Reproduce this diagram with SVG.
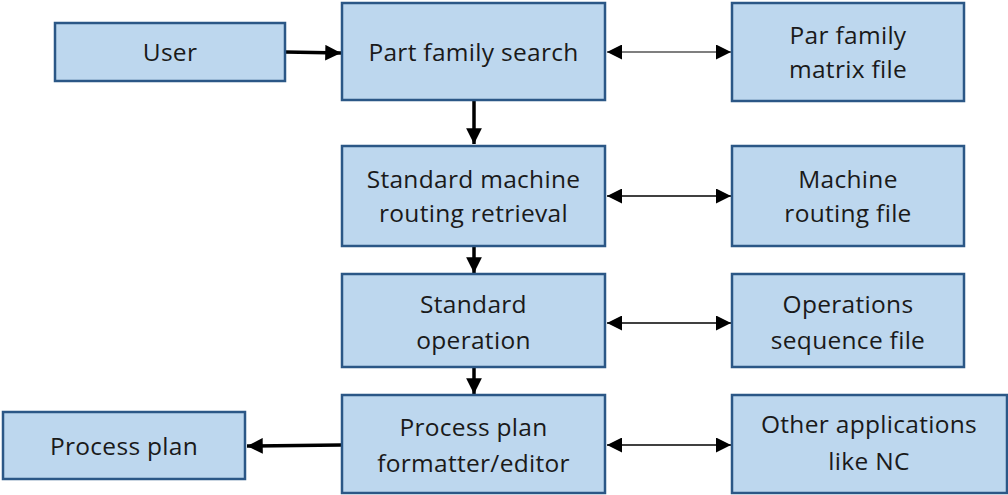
<svg xmlns="http://www.w3.org/2000/svg" width="1008" height="495" viewBox="0 0 1008 495">
  <style>
    .box { fill: #bdd7ee; stroke: #2b5786; stroke-width: 2.5; }
    .lbl { font-family: "Open Sans", "Liberation Sans", sans-serif; font-size: 24.5px; letter-spacing: 0.3px; fill: #1a1a1a; text-anchor: middle; }
    .flow { stroke: #000; stroke-width: 3.5; fill: none; }
    .link { stroke: #000; stroke-width: 1.5; fill: none; }
  </style>
  <defs>
    <marker id="headBig" viewBox="0 0 10 10" refX="10" refY="5" markerWidth="4.5" markerHeight="4.5" markerUnits="strokeWidth" orient="auto">
      <path d="M0,0 L10,5 L0,10 z" fill="#000"/>
    </marker>
    <marker id="headEnd" viewBox="0 0 10 10" refX="10" refY="5" markerWidth="10" markerHeight="10" markerUnits="strokeWidth" orient="auto">
      <path d="M0,0 L10,5 L0,10 z" fill="#000"/>
    </marker>
    <marker id="headStart" viewBox="0 0 10 10" refX="0" refY="5" markerWidth="10" markerHeight="10" markerUnits="strokeWidth" orient="auto">
      <path d="M10,0 L0,5 L10,10 z" fill="#000"/>
    </marker>
  </defs>

  <g id="connectors">
    <line class="flow" x1="285" y1="52" x2="341" y2="53" marker-end="url(#headBig)"/>
    <line class="flow" x1="474" y1="101" x2="474" y2="144" marker-end="url(#headBig)"/>
    <line class="flow" x1="474" y1="247" x2="474" y2="273" marker-end="url(#headBig)"/>
    <line class="flow" x1="474" y1="368" x2="474" y2="394" marker-end="url(#headBig)"/>
    <line class="flow" x1="341" y1="445" x2="247" y2="446" marker-end="url(#headBig)"/>
    <line class="link" style="stroke:#555" x1="607" y1="52" x2="731" y2="52" marker-start="url(#headStart)" marker-end="url(#headEnd)"/>
    <line class="link" x1="607" y1="196" x2="731" y2="196" marker-start="url(#headStart)" marker-end="url(#headEnd)"/>
    <line class="link" x1="607" y1="323" x2="731" y2="323" marker-start="url(#headStart)" marker-end="url(#headEnd)"/>
    <line class="link" x1="607" y1="445" x2="731" y2="445" marker-start="url(#headStart)" marker-end="url(#headEnd)"/>
  </g>

  <g id="user">
    <rect class="box" x="55" y="23" width="230" height="58"/>
    <text class="lbl" x="170" y="61">User</text>
  </g>
  <g id="part-family-search">
    <rect class="box" x="342" y="3" width="263" height="97"/>
    <text class="lbl" x="473.5" y="61">Part family search</text>
  </g>
  <g id="par-family-matrix-file">
    <rect class="box" x="732" y="3" width="232" height="98"/>
    <text class="lbl" x="848" y="44">Par family</text>
    <text class="lbl" x="848" y="78">matrix file</text>
  </g>
  <g id="standard-machine-routing">
    <rect class="box" x="342" y="146" width="263" height="100"/>
    <text class="lbl" x="473.5" y="188">Standard machine</text>
    <text class="lbl" x="473.5" y="222">routing retrieval</text>
  </g>
  <g id="machine-routing-file">
    <rect class="box" x="732" y="146" width="232" height="100"/>
    <text class="lbl" x="848" y="188">Machine</text>
    <text class="lbl" x="848" y="222">routing file</text>
  </g>
  <g id="standard-operation">
    <rect class="box" x="342" y="274" width="263" height="93"/>
    <text class="lbl" x="473.5" y="313">Standard</text>
    <text class="lbl" x="473.5" y="349">operation</text>
  </g>
  <g id="operations-sequence-file">
    <rect class="box" x="732" y="274" width="232" height="93"/>
    <text class="lbl" x="848" y="313">Operations</text>
    <text class="lbl" x="848" y="349">sequence file</text>
  </g>
  <g id="process-plan-formatter">
    <rect class="box" x="342" y="395" width="263" height="98"/>
    <text class="lbl" x="473.5" y="436">Process plan</text>
    <text class="lbl" x="473.5" y="472">formatter/editor</text>
  </g>
  <g id="other-applications">
    <rect class="box" x="732" y="395" width="275" height="98"/>
    <text class="lbl" x="869" y="433">Other applications</text>
    <text class="lbl" x="869" y="470">like NC</text>
  </g>
  <g id="process-plan">
    <rect class="box" x="3" y="412" width="242" height="67"/>
    <text class="lbl" x="124" y="455">Process plan</text>
  </g>
</svg>
